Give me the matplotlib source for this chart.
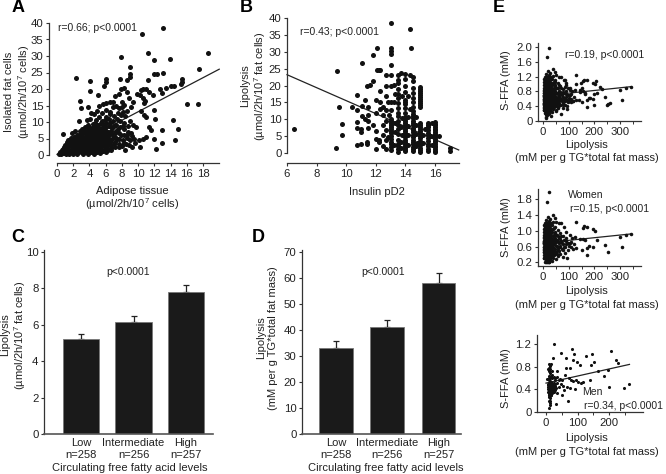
#!/usr/bin/env python3
"""Lipolysis vs circulating free fatty acids, panels A-E"""

import matplotlib
matplotlib.use('Agg')
import matplotlib.pyplot as plt

plt.rcParams['font.family'] = ['Liberation Sans', 'DejaVu Sans']
plt.rcParams['mathtext.default'] = 'regular'

W, H = 666, 474
TXT = '#222222'

# --- panel A: (adipose tissue, isolated fat cells)
a_points = [
    (0.7,6.5),(2.3,23.3),(2.8,16.5),(3.0,14.2),(3.8,14.5),(4.1,22.3),(4.1,19.4),(5.1,18.3),(6.0,23.1),(6.0,22.2),
    (5.8,21.0),(7.9,29.7),(7.8,23.0),(8.6,22.6),(9.0,26.7),(9.0,24.6),(9.0,23.6),(10.5,36.8),(13.1,38.5),(11.2,31.0),
    (11.9,28.9),(13.9,29.1),(18.6,31.0),(17.5,26.0),(13.1,24.9),(12.0,24.4),(12.3,24.5),(11.2,22.6),(15.4,23.0),(15.4,22.0),
    (15.3,21.4),(14.4,21.0),(14.0,20.8),(13.4,20.2),(12.7,20.0),(13.0,18.9),(16.0,15.4),(17.4,15.4),(14.3,10.5),(14.9,8.0),
    (14.5,4.6),(12.9,7.7),(12.9,3.6),(12.2,1.9),(11.9,5.0),(12.0,13.6),(12.1,11.0),(11.6,7.6),(11.3,8.5),(11.0,11.6),
    (10.7,12.0),(10.4,13.2),(10.6,5.0),(10.2,2.5),(11.0,5.5),(10.1,4.6),(9.5,5.0),(9.2,5.8),(9.8,8.5),(9.4,9.0),
    (10.3,19.8),(10.6,20.1),(11.0,20.0),(10.2,18.2),(9.9,18.5),(10.6,17.4),(10.9,16.4),(10.7,15.8),(11.4,19.1),(11.8,18.2),
    (9.4,16.2),(9.1,14.6),(8.6,13.4),(8.2,15.2),(8.0,16.2),(7.6,18.4),(7.9,20.0),(8.3,20.4),(8.6,19.0),(8.9,17.4),
    (7.2,17.8),(6.9,16.0),(6.5,16.2),(6.1,15.8),(5.7,15.6),(5.2,14.8),(4.9,13.4),(4.5,12.4),(4.2,12.8),(3.7,10.6),
    (2.7,10.4),(3.4,8.4),(6.1,13.6),(6.5,13.0),(6.9,14.4),(7.3,14.8),(7.7,14.2),(8.1,13.0),(8.4,11.8),(9.0,10.4),
    (0.3,0.4),(0.4,1.0),(0.5,0.3),(0.6,1.4),(0.7,0.7),(0.8,1.8),(0.9,0.5),(0.9,2.4),(1.0,1.2),(1.0,3.0),
    (1.1,0.4),(1.2,1.9),(1.2,3.8),(1.3,0.9),(1.4,2.8),(1.4,4.5),(1.5,0.4),(1.5,1.6),(1.6,3.4),(1.7,5.2),
    (1.7,0.9),(1.8,2.4),(1.9,4.2),(1.9,6.8),(2.0,0.4),(2.0,1.5),(2.1,3.1),(2.1,5.4),(2.2,7.2),(2.3,0.9),
    (2.3,2.3),(2.4,4.0),(2.5,6.2),(2.5,0.4),(2.6,1.6),(2.6,3.0),(2.7,5.0),(2.8,7.4),(2.9,0.8),(2.9,2.2),
    (3.0,3.8),(3.0,5.8),(3.1,8.0),(3.2,0.4),(3.2,1.5),(3.3,3.0),(3.3,4.6),(3.4,6.6),(3.5,0.9),(3.5,2.2),
    (3.6,3.8),(3.6,5.4),(3.7,7.4),(3.8,9.2),(3.8,0.4),(3.9,1.6),(3.9,3.0),(4.0,4.5),(4.0,6.2),(4.1,8.2),
    (4.1,10.8),(4.2,0.8),(4.2,2.4),(4.3,3.6),(4.3,5.4),(4.4,7.2),(4.4,9.4),(4.5,0.4),(4.5,1.6),(4.6,3.0),
    (4.6,4.4),(4.7,6.2),(4.7,8.4),(4.8,10.6),(4.9,1.0),(4.9,2.4),(5.0,3.8),(5.0,5.4),(5.1,7.2),(5.1,9.2),
    (5.2,11.6),(5.3,0.6),(5.3,1.8),(5.4,3.2),(5.4,4.8),(5.5,6.4),(5.5,8.2),(5.6,10.4),(5.6,12.6),(5.7,1.2),
    (5.8,2.6),(5.8,4.2),(5.9,5.8),(5.9,7.6),(6.0,9.6),(6.0,11.6),(6.1,0.9),(6.2,2.2),(6.2,3.6),(6.3,5.2),
    (6.3,7.0),(6.4,8.8),(6.4,10.8),(6.5,12.4),(6.6,1.6),(6.6,3.0),(6.7,4.6),(6.8,6.4),(6.8,8.2),(6.9,10.2),
    (7.0,11.8),(7.1,2.4),(7.1,4.0),(7.2,5.6),(7.3,7.4),(7.3,9.2),(7.4,10.8),(7.5,12.8),(7.6,3.2),(7.6,5.0),
    (7.7,6.8),(7.8,8.6),(7.8,10.4),(7.9,12.2),(8.0,2.8),(8.1,4.4),(8.2,6.0),(8.2,7.8),(8.3,9.6),(8.4,1.6),
    (8.5,3.4),(8.6,5.2),(8.7,7.0),(8.8,8.8),(8.9,3.0),(9.0,4.4),(9.1,6.8),(9.3,2.4),(9.6,3.6),(8.0,14.6),
]
a_core_points = [
    (0.8,0.9),(1.1,1.5),(1.3,2.3),(1.5,3.0),(1.6,4.1),(1.8,1.2),(1.9,3.5),(2.0,2.1),(2.1,4.6),(2.2,1.1),
    (2.2,2.8),(2.3,3.6),(2.4,5.2),(2.4,1.8),(2.5,2.6),(2.6,4.4),(2.6,0.9),(2.7,3.5),(2.7,6.0),(2.8,1.4),
    (2.8,2.7),(2.9,4.4),(2.9,6.6),(3.0,1.1),(3.0,3.1),(3.1,2.1),(3.1,4.9),(3.1,6.7),(3.2,3.7),(3.2,5.4),
    (3.3,1.0),(3.3,2.4),(3.4,4.0),(3.4,7.2),(3.5,1.6),(3.5,3.2),(3.5,5.0),(3.6,2.6),(3.6,6.3),(3.7,1.1),
    (3.7,4.3),(3.8,2.4),(3.8,3.4),(3.8,5.8),(3.9,4.9),(3.9,6.9),(3.9,8.2),(4.0,1.1),(4.0,2.2),(4.0,3.6),
    (4.1,5.3),(4.1,7.2),(4.2,1.6),(4.2,4.4),(4.2,6.4),(4.3,2.9),(4.3,8.2),(4.4,1.2),(4.4,4.4),(4.4,5.9),
    (4.5,2.4),(4.5,3.6),(4.5,6.7),(4.6,1.1),(4.6,5.3),(4.6,7.6),(4.7,2.2),(4.7,3.7),(4.7,9.6),(4.8,4.7),
    (4.8,5.8),(4.9,3.1),(4.9,7.0),(4.9,8.0),(5.0,1.4),(5.0,4.6),(5.0,6.4),(5.1,2.8),(5.1,3.4),(5.2,5.0),
    (5.2,6.0),(5.2,8.3),(5.3,2.4),(5.3,4.0),(5.3,7.2),(5.4,1.2),(5.4,9.6),(5.5,2.6),(5.5,5.6),(5.6,3.6),
    (5.6,7.2),(5.7,4.8),(5.7,9.2),(5.8,1.6),(5.8,6.6),(5.9,3.4),(5.9,10.6),(6.0,2.2),(6.0,4.8),(6.1,6.4),
    (6.1,8.4),(6.2,4.4),(6.3,1.6),(6.3,3.0),(6.4,6.2),(6.5,4.0),(6.5,9.6),(6.7,2.2),(6.7,7.4),(6.9,5.2),
    (7.0,3.2),(7.0,8.8),(7.2,6.8),(7.4,4.8),(7.5,8.0),(7.7,2.4),(7.9,6.0),(8.1,8.8),(8.3,3.6),(8.6,6.2),
]
a_line_x = [0.0, 20.0]
a_line_y = [0.2, 26.0]

# --- panel B: insulin pD2 on half-unit columns, plus the scattered rest
b_col_x = [13.0, 13.5, 14.0, 14.5, 15.0, 15.5, 16.0]
b_col_y = [
    [1.0,1.8,2.6,3.4,4.2,5.0,5.8,6.4,7.0,7.6,8.2,8.8,9.4,10.0,12.8,15.2,20.0,23.0,26.0,29.4,30.2,31.0],
    [0.4,1.2,2.0,2.8,4.0,5.6,7.0,8.4,9.6,11.0,12.0,13.4,14.8,16.2,17.6,19.0,20.6,21.6,23.0],
    [0.5,1.0,1.6,2.2,2.8,3.4,4.0,4.6,5.2,5.8,6.4,7.0,7.6,8.2,8.8,9.4,10.0,10.8,12.0,13.2,14.4,15.0,15.8,18.0,20.0,22.0,23.3],
    [0.5,1.2,1.9,2.6,3.3,4.0,4.7,5.4,6.1,6.8,7.5,8.2,8.9,9.6,10.3,11.0,11.7,12.4,13.6,15.0,16.4,17.8,19.4,21.2,22.4],
    [0.4,1.0,1.6,2.4,3.0,3.6,4.4,5.0,5.8,6.4,7.0,7.8,8.4,9.0,13.6,14.2,14.8,15.4,16.0,16.6,17.2,17.8,18.4,19.0,19.6],
    [0.5,1.2,2.0,2.8,3.6,4.4,5.2,6.0,6.8,7.6,8.4,9.0],
    [0.2,0.7,1.2,1.7,2.2,2.7,3.2,3.7,4.2,4.7,5.2,5.7,6.2,6.7,7.2,7.7,8.2,8.7,9.1],
]
b_points = [
    (6.5,7.2),(9.3,1.6),(9.7,5.3),(9.7,8.7),(9.5,13.5),(9.4,24.2),(10.4,13.6),(10.7,2.4),(10.7,7.4),(10.7,9.2),
    (10.7,12.8),(10.7,17.2),(11.0,2.8),(11.0,6.2),(11.0,7.2),(11.1,11.0),(11.1,14.0),(11.1,26.6),(11.3,10.2),(11.3,15.8),
    (11.4,2.7),(11.4,3.4),(11.5,7.4),(11.5,9.6),(11.5,11.4),(11.5,13.6),(11.4,20.0),(11.6,20.2),(11.8,21.2),(11.8,29.0),
    (11.8,8.2),(12.0,1.2),(12.0,4.2),(12.0,6.6),(12.0,12.0),(12.0,15.6),(12.1,31.0),(12.1,24.5),(12.2,24.7),(12.3,24.5),
    (12.2,3.2),(12.2,4.0),(12.3,13.0),(12.3,15.0),(12.3,18.4),(12.5,2.2),(12.5,5.2),(12.5,8.4),(12.5,11.2),(12.5,13.6),
    (12.7,1.2),(12.7,3.8),(12.7,6.8),(12.7,9.6),(12.7,12.8),(12.7,17.0),(12.7,19.8),(12.7,23.0),(12.8,4.8),(12.8,15.0),
    (13.0,38.5),(14.3,36.8),(14.4,31.0),(13.2,15.2),(13.7,23.6),(13.8,17.0),(13.8,5.2),(14.2,16.8),(14.2,5.4),(14.3,23.0),
    (14.7,8.4),(14.7,5.6),(14.8,3.0),(15.2,3.0),(15.2,5.4),(15.3,7.2),(15.7,5.0),(15.8,2.4),(15.8,9.0),(16.3,5.0),
    (17.0,0.6),(17.0,1.4),(13.2,2.4),(13.3,6.2),(13.3,9.0),(13.7,1.4),(13.7,3.4),(13.7,7.8),(13.8,10.4),(14.2,2.4),
    (14.2,8.0),(14.2,10.6),(14.3,13.0),(14.7,2.0),(14.7,10.6),(13.2,20.2),(13.3,17.4),(12.9,11.4),
]
b_line_x = [6.0, 17.6]
b_line_y = [23.2, 0.9]

# --- panels C, D
groups = ['Low\nn=258', 'Intermediate\nn=256', 'High\nn=257']
c_values = [5.2, 6.15, 7.78]
c_err = [0.27, 0.35, 0.42]
d_values = [33.0, 41.0, 58.0]
d_err = [2.6, 3.0, 3.8]

# --- panel E: women and men, the top plot has both
women_points = [
    (23,1.98),(16,1.72),(130,1.23),(342,0.92),(323,0.89),(300,0.85),(308,0.58),(254,0.46),(240,0.65),(209,0.77),
    (202,1.0),(193,1.04),(172,1.1),(159,1.12),(154,1.07),(171,0.39),(95,0.32),(196,0.6),(180,0.62),(170,0.56),
    (150,0.51),(130,0.56),(117,0.53),(39,1.4),(46,1.32),(52,1.23),(62,1.2),(72,1.19),(80,1.1),(91,0.98),
    (104,0.89),(124,0.84),(143,0.78),(155,0.8),(165,0.76),(110,0.72),(120,0.66),(100,0.62),(88,0.74),(78,0.86),
    (66,0.94),(58,1.02),(48,1.1),(38,1.22),(28,1.3),(20,1.36),(12,1.28),(8,1.2),
    (3,0.3),(3,0.45),(3,0.6),(3,0.75),(3,0.9),(4,1.05),(6,0.22),(6,0.38),(6,0.52),(6,0.68),
    (6,0.82),(7,0.98),(8,1.12),(9,0.3),(9,0.46),(9,0.6),(9,0.76),(10,0.9),(10,1.04),(12,0.2),
    (12,0.36),(12,0.52),(12,0.66),(12,0.8),(13,0.96),(13,1.1),(15,0.28),(15,0.44),(15,0.58),(15,0.72),
    (16,0.86),(16,1.02),(17,1.2),(18,0.2),(18,0.36),(18,0.5),(18,0.64),(19,0.78),(19,0.94),(20,1.1),
    (21,0.28),(21,0.42),(21,0.56),(22,0.7),(22,0.86),(23,1.02),(24,1.24),(25,0.22),(25,0.36),(25,0.5),
    (26,0.64),(26,0.78),(27,0.94),(28,1.12),(29,0.3),(30,0.44),(30,0.58),(31,0.72),(31,0.88),(33,1.04),
    (34,0.24),(34,0.38),(35,0.52),(35,0.66),(36,0.8),(37,0.96),(39,0.32),(40,0.46),(40,0.6),(41,0.74),
    (42,0.9),(43,1.06),(45,0.4),(46,0.54),(46,0.68),(47,0.82),(48,0.98),(52,0.28),(52,0.46),(53,0.62),
    (54,0.76),(55,0.9),(60,0.36),(60,0.52),(61,0.68),(62,0.82),(68,0.42),(68,0.58),(69,0.74),(72,0.88),
    (76,0.34),(77,0.5),(78,0.66),(85,0.44),(86,0.6),(90,0.82),(96,0.52),(98,0.7),(108,0.6),(114,0.82),
]
women_core_points = [
    (4,0.38),(4,0.53),(4,0.68),(4,0.83),(5,0.98),(5,1.14),(7,0.3),(7,0.45),(7,0.6),(7,0.75),
    (8,0.9),(8,1.04),(10,0.25),(10,0.38),(10,0.53),(10,0.68),(11,0.83),(11,0.98),(11,1.16),(13,0.28),
    (13,0.44),(13,0.59),(13,0.73),(14,0.87),(14,1.03),(14,1.2),(16,0.21),(16,0.36),(16,0.51),(16,0.65),
    (17,0.79),(17,0.95),(18,1.12),(19,0.28),(19,0.43),(20,0.57),(20,0.71),(20,0.86),(21,1.02),(22,1.18),
    (22,0.21),(23,0.35),(23,0.49),(23,0.63),(24,0.78),(24,0.94),(26,0.29),(27,0.43),(27,0.57),(28,0.71),
    (28,0.86),(29,1.03),(30,1.2),(31,0.37),(32,0.51),(32,0.65),(33,0.8),(33,0.95),(36,0.44),(37,0.58),
    (37,0.72),(38,0.87),(39,1.04),(42,0.38),(43,0.52),(43,0.66),(44,0.8),(45,0.95),(49,0.47),(50,0.61),
    (50,0.75),(51,0.89),(56,0.4),(57,0.56),(58,0.72),(59,0.88),(64,0.48),(65,0.62),(66,0.78),(73,0.54),
    (74,0.7),(81,0.58),(82,0.76),(91,0.66),(104,0.7),(34,1.14),(25,1.08),(15,1.14),(9,1.1),(6,1.0),
    (2,0.5),(2,0.66),(2,0.82),(5,0.3),(5,0.46),(5,0.6),(5,0.75),(8,0.38),(8,0.53),(8,0.67),
    (11,0.46),(11,0.6),(11,0.74),(14,0.36),(14,0.5),(14,0.66),(14,0.78),(17,0.44),(17,0.58),(17,0.7),
    (21,0.66),(21,0.8),(24,0.44),(24,0.58),(24,0.7),(29,0.64),(29,0.8),(34,0.74),(34,0.6),(39,0.66),
]
men_points = [
    (26,1.2),(47,1.05),(84,1.12),(89,1.02),(128,0.99),(147,1.02),(207,1.07),(221,0.91),(230,0.87),(153,0.89),
    (144,0.83),(165,0.72),(197,0.74),(184,0.63),(200,0.44),(249,0.43),(262,0.5),(139,0.56),(116,0.53),(102,0.53),
    (86,0.54),(92,0.41),(70,0.2),(65,0.77),(76,0.78),(107,0.83),(86,0.92),(97,0.89),(63,0.96),(23,0.96),
    (8,0.84),(12,0.82),(16,0.84),(6,0.76),(10,0.72),(14,0.76),(20,0.72),(34,0.72),(60,0.66),(72,0.6),
    (80,0.56),(95,0.56),(110,0.52),(76,0.42),(66,0.44),(58,0.38),(50,0.3),(48,0.5),(40,0.56),(34,0.62),
    (28,0.56),(24,0.62),(20,0.6),(16,0.64),(12,0.6),(8,0.6),(4,0.58),
    (5,0.36),(5,0.44),(5,0.5),(8,0.3),(8,0.38),(8,0.46),(8,0.52),(11,0.26),(11,0.34),(11,0.42),
    (11,0.5),(11,0.56),(14,0.16),(14,0.24),(14,0.32),(14,0.4),(14,0.48),(14,0.55),(10,0.07),(12,0.12),
    (17,0.3),(17,0.38),(17,0.46),(17,0.53),(20,0.36),(20,0.44),(20,0.52),(23,0.4),(23,0.48),(26,0.36),
    (26,0.45),(30,0.5),(33,0.42),(36,0.34),(36,0.52),(40,0.44),(32,0.14),(45,0.58),(52,0.56),(55,0.46),
    (6,0.4),(7,0.48),(9,0.34),(9,0.42),(9,0.5),(10,0.3),(10,0.38),(10,0.46),(12,0.3),(12,0.38),
    (12,0.44),(12,0.52),(13,0.28),(13,0.36),(13,0.44),(15,0.3),(15,0.36),(15,0.44),(15,0.52),(16,0.4),
    (16,0.48),(18,0.34),(18,0.42),(18,0.5),(19,0.4),(19,0.46),(21,0.42),(21,0.5),(22,0.36),(24,0.44),
    (24,0.52),(28,0.46),(29,0.38),(10,0.64),(13,0.68),(18,0.66),(9,0.78),(14,0.2),(11,0.2),(30,0.6),
]
e_all_line_x = [0, 345]
e_all_line_y = [0.68, 0.93]
e_women_line_x = [0, 342]
e_women_line_y = [0.69, 0.92]
e_men_line_x = [0, 265]
e_men_line_y = [0.51, 0.84]


def make_ax(left, right, top, bottom, xa, xb, ya, yb):
    """axes from pixel box; xa/xb and ya/yb are (value, pixel) anchors"""
    ax = fig.add_axes([left / W, 1 - bottom / H, (right - left) / W, (bottom - top) / H])
    xs = (xb[0] - xa[0]) / (xb[1] - xa[1])
    ys = (yb[0] - ya[0]) / (yb[1] - ya[1])
    ax.set_xlim(xa[0] + (left - xa[1]) * xs, xa[0] + (right - xa[1]) * xs)
    ax.set_ylim(ya[0] + (bottom - ya[1]) * ys, ya[0] + (top - ya[1]) * ys)
    ax.patch.set_alpha(0)
    for s in ['top', 'right']:
        ax.spines[s].set_visible(False)
    for s in ['left', 'bottom']:
        ax.spines[s].set_color('#333333')
        ax.spines[s].set_linewidth(0.9)
    ax.tick_params(colors=TXT, labelsize=8.2, length=2.5, width=0.8, pad=1.5, color='#333333')
    return ax


def label(px, py, s, size=8, rot=0, weight='normal', ls=1.05):
    fig.text(px / W, 1 - py / H, s, ha='center', va='center', fontsize=size, rotation=rot,
             fontweight=weight, color=TXT if weight == 'normal' else 'black', linespacing=ls)


def scatter(ax, pts, size, line_x, line_y):
    ax.scatter([p[0] for p in pts], [p[1] for p in pts], s=size, c='#111111', linewidths=0, clip_on=False, zorder=3)
    ax.plot(line_x, line_y, color='#222222', lw=0.9, clip_on=False, zorder=2)


def bars(ax, vals, errs, width):
    xpos = range(len(vals))
    ax.bar(xpos, vals, width=width, color='#1a1a1a', edgecolor='#777777', linewidth=0.6, zorder=2)
    ax.errorbar(xpos, vals, yerr=[[0] * len(vals), errs], fmt='none', ecolor='#222222', elinewidth=0.9,
                capsize=2.2, capthick=0.9, zorder=1)
    ax.set_xticks(list(xpos))
    ax.set_xticklabels(groups, fontsize=8, linespacing=1.25)
    ax.tick_params(axis='x', length=0, pad=3)
    ax.spines['bottom'].set_linewidth(1.2)
    ax.spines['bottom'].set_color('#555555')


fig = plt.figure(figsize=(W / 100, H / 100), dpi=100)

# A
ax = make_ax(49, 219, 23, 163, (0, 57), (18, 203), (0, 155), (40, 23))
scatter(ax, a_points + a_core_points, 13, a_line_x, a_line_y)
ax.set_yticks(range(0, 41, 5))
ax.set_xticks(range(0, 19, 2))
ax.spines['left'].set_bounds(0, 40)
ax.spines['bottom'].set_bounds(0, 20)
label(18, 92, 'Isolated fat cells\n(µmol/2h/10$^7$ cells)', rot=90, ls=1.2)
label(132, 199, 'Adipose tissue\n(µmol/2h/10$^7$ cells)')
label(97, 28, 'r=0.66; p<0.0001', size=7.5)
label(18, 8, 'A', size=13, weight='bold')

# B
ax = make_ax(287, 459, 18, 163, (6, 287), (16, 435), (0, 153), (40, 18))
b_all = [(x, y) for x, col in zip(b_col_x, b_col_y) for y in col] + b_points
scatter(ax, b_all, 13, b_line_x, b_line_y)
ax.set_yticks(range(0, 41, 5))
ax.set_xticks(range(6, 17, 2))
ax.spines['left'].set_bounds(0, 40)
label(254, 86, 'Lipolysis\n(µmol/2h/10$^7$ fat cells)', rot=90, ls=1.15)
label(377, 192, 'Insulin pD2')
label(339, 32, 'r=0.43; p<0.0001', size=7.5)
label(246, 7, 'B', size=13, weight='bold')

# C
ax = make_ax(44, 213, 250, 434, (0, 81), (1, 133.5), (0, 434), (10, 252))
bars(ax, c_values, c_err, 0.686)
ax.set_yticks(range(0, 11, 2))
label(14, 335, 'Lipolysis\n(µmol/2h/10$^7$ fat cells)', rot=90, ls=1.15)
label(130, 468, 'Circulating free fatty acid levels')
label(128, 272, 'p<0.0001', size=7.5)
label(18, 237, 'C', size=13, weight='bold')

# D
ax = make_ax(302, 461, 250, 434, (0, 336), (1, 387.25), (0, 434), (70, 252))
bars(ax, d_values, d_err, 0.654)
ax.set_yticks(range(0, 71, 10))
label(267, 338, 'Lipolysis\n(mM per g TG*total fat mass)', rot=90, ls=1.15)
label(386, 468, 'Circulating free fatty acid levels')
label(383, 272, 'p<0.0001', size=7.5)
label(258, 237, 'D', size=13, weight='bold')

# E top
ax = make_ax(538, 641, 43, 121, (0, 543), (300, 620), (0, 121), (2.0, 47))
scatter(ax, women_points + women_core_points + men_points, 6.5, e_all_line_x, e_all_line_y)
ax.set_yticks([0, 0.4, 0.8, 1.2, 1.6, 2.0], ['0', '0.4', '0.8', '1.2', '1.6', '2.0'])
ax.set_xticks([0, 100, 200, 300])
ax.set_xticks([50, 150, 250, 350], minor=True)
ax.tick_params(which='minor', length=2, width=0.7, color='#333333')
label(506, 80, 'S-FFA (mM)', rot=90)
label(605, 55, 'r=0.19, p<0.0001', size=7.5)
label(587, 145, 'Lipolysis')
label(587, 158, '(mM per g TG*total fat mass)')
label(499, 7, 'E', size=13, weight='bold')

# E middle
ax = make_ax(538, 641, 189, 266, (0, 543), (300, 620), (0.2, 262.3), (1.8, 199.3))
scatter(ax, women_points + women_core_points, 6.5, e_women_line_x, e_women_line_y)
ax.set_yticks([0.2, 0.6, 1.0, 1.4, 1.8])
ax.set_xticks([0, 100, 200, 300])
ax.set_xticks([50, 150, 250, 350], minor=True)
ax.tick_params(which='minor', length=2, width=0.7, color='#333333')
label(506, 227, 'S-FFA (mM)', rot=90)
label(586, 195, 'Women', size=7.5)
label(610, 209, 'r=0.15, p<0.0001', size=7.5)
label(587, 291, 'Lipolysis')
label(587, 305, '(mM per g TG*total fat mass)')

# E bottom
ax = make_ax(537, 643, 335, 412, (0, 546), (200, 609), (0, 412), (1.2, 344))
scatter(ax, men_points, 5, e_men_line_x, e_men_line_y)
ax.set_yticks([0, 0.4, 0.8, 1.2], ['0', '0.4', '0.8', '1.2'])
ax.set_xticks([0, 100, 200])
ax.set_xticks([50, 150, 250], minor=True)
ax.tick_params(which='minor', length=2, width=0.7, color='#333333')
label(506, 378, 'S-FFA (mM)', rot=90)
label(592, 392, 'Men', size=7.5)
label(624, 406, 'r=0.34, p<0.0001', size=7.5)
label(587, 438, 'Lipolysis')
label(587, 452, '(mM per g TG*total fat mass)')

fig.savefig('out.png', dpi=100)
